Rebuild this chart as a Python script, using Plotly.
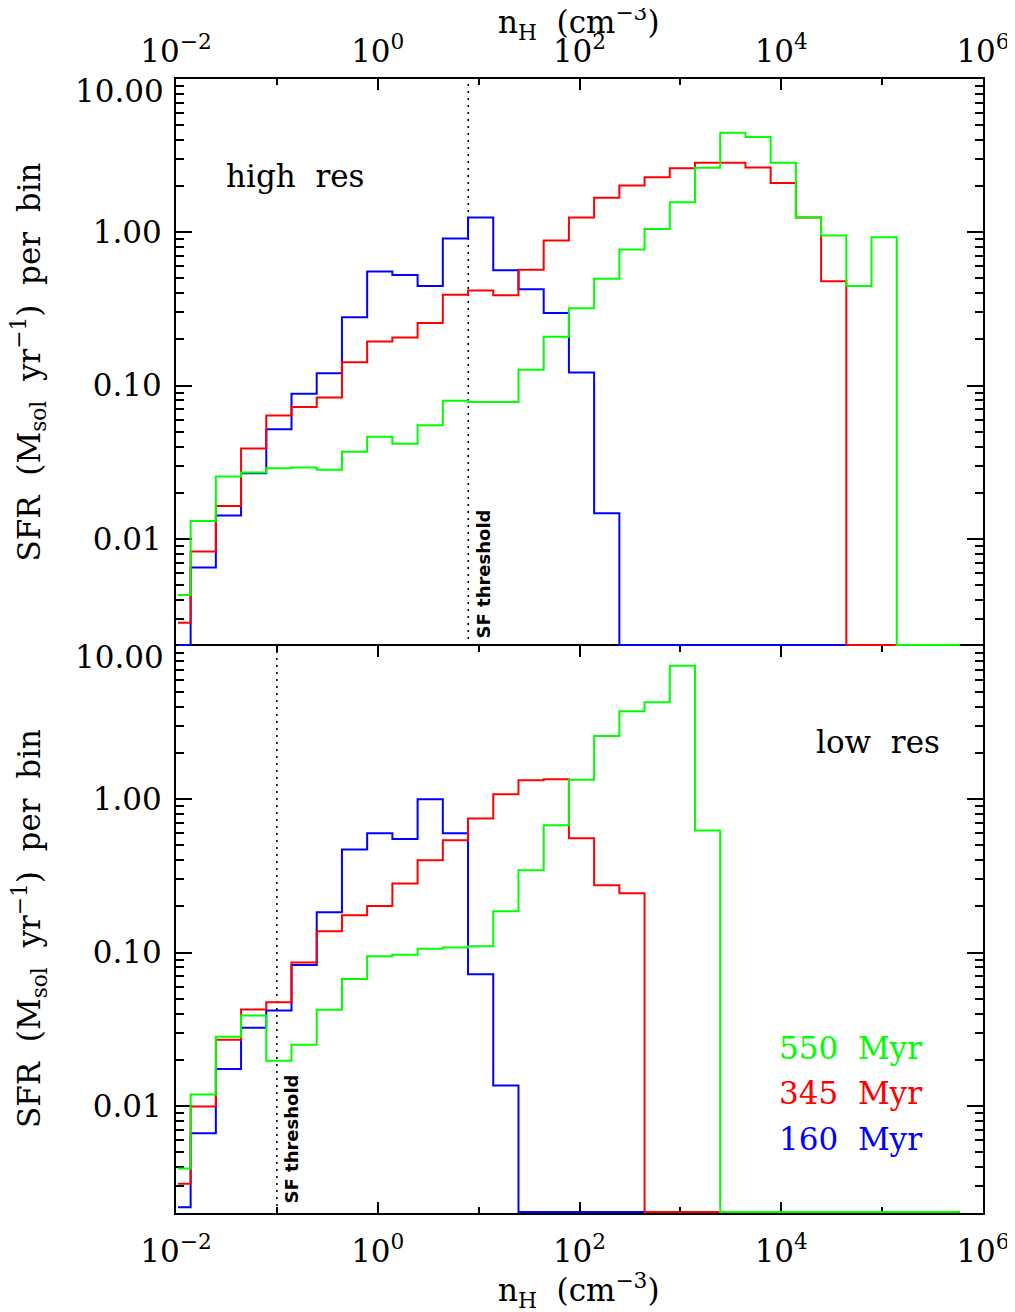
import plotly.graph_objects as go

# ---------------- data ----------------
# log10 of bin centres (n_H in cm^-3)
log_nh_centres = [-1.98, -1.73, -1.48, -1.23, -0.98, -0.73, -0.48, -0.23,
                  0.02, 0.27, 0.52, 0.77, 1.02, 1.27, 1.52, 1.77,
                  2.02, 2.27, 2.52, 2.77, 3.02, 3.27, 3.52, 3.77,
                  4.02, 4.27, 4.52, 4.77, 5.02, 5.27, 5.52, 5.77]

# high resolution run (top panel)
hi_160 = [0.0, 0.0065, 0.0142, 0.0268, 0.0519, 0.0883, 0.1205, 0.279,
          0.554, 0.527, 0.447, 0.91, 1.25, 0.566, 0.425, 0.297,
          0.1216, 0.0147, 0.0, 0.0, 0.0, 0.0, 0.0, 0.0,
          0.0, 0.0, 0.0, 0.0, 0.0, 0.0, 0.0, 0.0]
hi_345 = [0.00284, 0.00826, 0.0164, 0.0388, 0.0637, 0.0726, 0.0835, 0.142,
          0.194, 0.206, 0.256, 0.391, 0.417, 0.389, 0.569, 0.883,
          1.25, 1.68, 2.02, 2.29, 2.62, 2.84, 2.84, 2.65,
          2.10, 1.25, 0.479, 0.0, 0.0, 0.0, 0.0, 0.0]
hi_550 = [0.00431, 0.0131, 0.0255, 0.0271, 0.0289, 0.0292, 0.0282, 0.037,
          0.0463, 0.0417, 0.0552, 0.0795, 0.078, 0.078, 0.127, 0.208,
          0.32, 0.497, 0.771, 1.05, 1.57, 2.64, 4.46, 4.18,
          2.84, 1.25, 0.953, 0.446, 0.927, 0.0, 0.0, 0.0]

# low resolution run (bottom panel)
lo_160 = [0.00218, 0.00662, 0.0174, 0.0323, 0.0419, 0.083, 0.183, 0.47,
          0.6, 0.551, 1.0, 0.6, 0.0722, 0.0136, 0.0, 0.0,
          0.0, 0.0, 0.0, 0.0, 0.0, 0.0, 0.0, 0.0,
          0.0, 0.0, 0.0, 0.0, 0.0, 0.0, 0.0, 0.0]
lo_345 = [0.0031, 0.00989, 0.027, 0.0425, 0.0474, 0.086, 0.138, 0.175,
          0.201, 0.282, 0.4, 0.54, 0.748, 1.08, 1.33, 1.35,
          0.557, 0.275, 0.244, 0.0, 0.0, 0.0, 0.0, 0.0,
          0.0, 0.0, 0.0, 0.0, 0.0, 0.0, 0.0, 0.0]
lo_550 = [0.0039, 0.01186, 0.0282, 0.0388, 0.0197, 0.025, 0.0423, 0.0673,
          0.0946, 0.0968, 0.106, 0.108, 0.11, 0.186, 0.344, 0.676,
          1.34, 2.59, 3.75, 4.29, 7.42, 0.625, 0.0, 0.0,
          0.0, 0.0, 0.0, 0.0, 0.0, 0.0, 0.0, 0.0]

series_labels = ["550 Myr", "345 Myr", "160 Myr"]
series_colors = ["#00ff00", "#ff0000", "#0000ff"]

sf_threshold_hi = 7.9
sf_threshold_lo = 0.1

x_tickvals = [1e-2, 1e0, 1e2, 1e4, 1e6]
x_ticktext = ["10<sup>\u22122</sup>", "10<sup>0</sup>", "10<sup>2</sup>",
              "10<sup>4</sup>", "10<sup>6</sup>"]
x_minor = [1e-1, 1e1, 1e3, 1e5]
y_tickvals = [0.01, 0.1, 1.0]
y_ticktext = ["0.01", "0.10", "1.00"]
y_minor = [m * 10.0 ** e for e in (-3, -2, -1, 0) for m in range(2, 10)
           if 0.002 <= m * 10.0 ** e <= 10]

YMIN, YMAX = 0.002, 10.0
# empty bins are drawn along the bottom frame (1 px above it, so the 2 px line shows)
YFLOOR = 10 ** (-2.69897 + 1.0 / 153.3)

# ---------------- layout geometry ----------------
# the page body has an 8 px margin; the figure sits at (8, 8) in the window
OFF = 8
W, H = 1015 - OFF, 1312 - OFF
PL, PR, PT, PB = 176, 983, 79, 1213          # plot area in window pixels
L, T = PL - OFF, PT - OFF
R, B = W - (PR - OFF), H - (PB - OFF)
PW, PH = PR - PL, PB - PT

SERIF = "DejaVu Serif"
FS = 31
SP = "\u00a0\u00a0"


def px(xp):
    return (xp - PL) / PW


def py(yp):
    return (PB - yp) / PH


x_centres = [10 ** c for c in log_nh_centres]


def clip(vals):
    return [v if v > YFLOOR else YFLOOR for v in vals]


fig = go.Figure()

panels = [
    ("x2", "y2", [hi_160, hi_345, hi_550], sf_threshold_hi),
    ("x", "y", [lo_160, lo_345, lo_550], sf_threshold_lo),
]
order_colors = [series_colors[2], series_colors[1], series_colors[0]]
for xa, ya, sers, thr in panels:
    fig.add_trace(go.Scatter(x=[thr, thr], y=[YMIN, YMAX], mode="lines",
                             line=dict(color="black", width=1.6, dash="2px,5px"),
                             xaxis=xa, yaxis=ya, showlegend=False, hoverinfo="skip"))
    for vals, col in zip(sers, order_colors):
        fig.add_trace(go.Scatter(x=x_centres, y=clip(vals), mode="lines",
                                 line=dict(color=col, width=2, shape="hvh"),
                                 xaxis=xa, yaxis=ya, showlegend=False))

axis_common = dict(type="log", showgrid=False, zeroline=False, showline=True,
                   linecolor="black", linewidth=2, ticks="inside",
                   tickcolor="black", tickwidth=2,
                   tickfont=dict(family=SERIF, size=FS, color="black"),
                   ticklabeloverflow="allow",
                   layer="below traces")

xcommon = dict(axis_common, range=[-2, 6], tickmode="array", tickvals=x_tickvals,
               ticktext=x_ticktext, ticklen=11,
               minor=dict(tickmode="array", tickvals=x_minor, ticks="inside",
                          ticklen=6, tickwidth=2, tickcolor="black"))
ycommon = dict(axis_common, range=[-2.69897, 1.0], tickmode="array",
               tickvals=y_tickvals, ticktext=y_ticktext, ticklen=16,
               mirror="ticks", ticklabelstandoff=6,
               minor=dict(tickmode="array", tickvals=y_minor, ticks="inside",
                          ticklen=8, tickwidth=2, tickcolor="black"))

fig.update_layout(
    width=W, height=H,
    margin=dict(l=L, r=R, t=T, b=B, autoexpand=False),
    paper_bgcolor="white", plot_bgcolor="white",
    showlegend=False,
    xaxis=dict(xcommon, domain=[0, 1], anchor="y", side="bottom", mirror="ticks",
               ticklabelstandoff=10),
    yaxis=dict(ycommon, domain=[0, 0.5], anchor="x"),
    xaxis2=dict(xcommon, domain=[0, 1], anchor="y2", side="top", mirror=False,
                ticklabelstandoff=3),
    yaxis2=dict(ycommon, domain=[0.5, 1], anchor="x2"),
)

ann = []
xtitle = "n<sub>H</sub>" + SP + "(cm<sup>\u22123</sup>)"
for yc in (22, 1290):
    ann.append(dict(x=px(579), y=py(yc), xref="paper", yref="paper", text=xtitle,
                    showarrow=False, xanchor="center", yanchor="middle",
                    font=dict(family=SERIF, size=FS, color="black")))
ytitle = ("SFR" + SP + "(M<sub>sol</sub>" + SP + "yr<sup>\u22121</sup>)" + SP +
          "per" + SP + "bin")
for yc in (362.5, 929):
    ann.append(dict(x=px(29), y=py(yc), xref="paper", yref="paper", text=ytitle,
                    textangle=-90, showarrow=False, xanchor="center", yanchor="middle",
                    font=dict(family=SERIF, size=FS, color="black")))
for yc in (91, 657):
    ann.append(dict(x=px(166), y=py(yc), xref="paper", yref="paper", text="10.00",
                    showarrow=False, xanchor="right", yanchor="middle",
                    font=dict(family=SERIF, size=FS, color="black")))
ann.append(dict(x=px(224), y=py(176), xref="paper", yref="paper",
                text="high" + SP + "res", showarrow=False, xanchor="left",
                yanchor="middle", font=dict(family=SERIF, size=FS, color="black")))
ann.append(dict(x=px(942), y=py(742), xref="paper", yref="paper",
                text="low" + SP + "res", showarrow=False, xanchor="right",
                yanchor="middle", font=dict(family=SERIF, size=FS, color="black")))
for lab, col, yc in zip(series_labels, series_colors, (1048, 1093, 1139)):
    ann.append(dict(x=px(924), y=py(yc), xref="paper", yref="paper",
                    text=lab.replace(" ", SP), showarrow=False,
                    xanchor="right", yanchor="middle",
                    font=dict(family=SERIF, size=FS, color=col)))
for xc, yb in ((483, 641), (291, 1206)):
    ann.append(dict(x=px(xc), y=py(yb), xref="paper", yref="paper",
                    text="<b>SF threshold</b>", textangle=-90, showarrow=False,
                    xanchor="center", yanchor="bottom",
                    font=dict(family="DejaVu Sans", size=18, color="black")))
fig.update_layout(annotations=ann)

fig.write_html("out.html")
